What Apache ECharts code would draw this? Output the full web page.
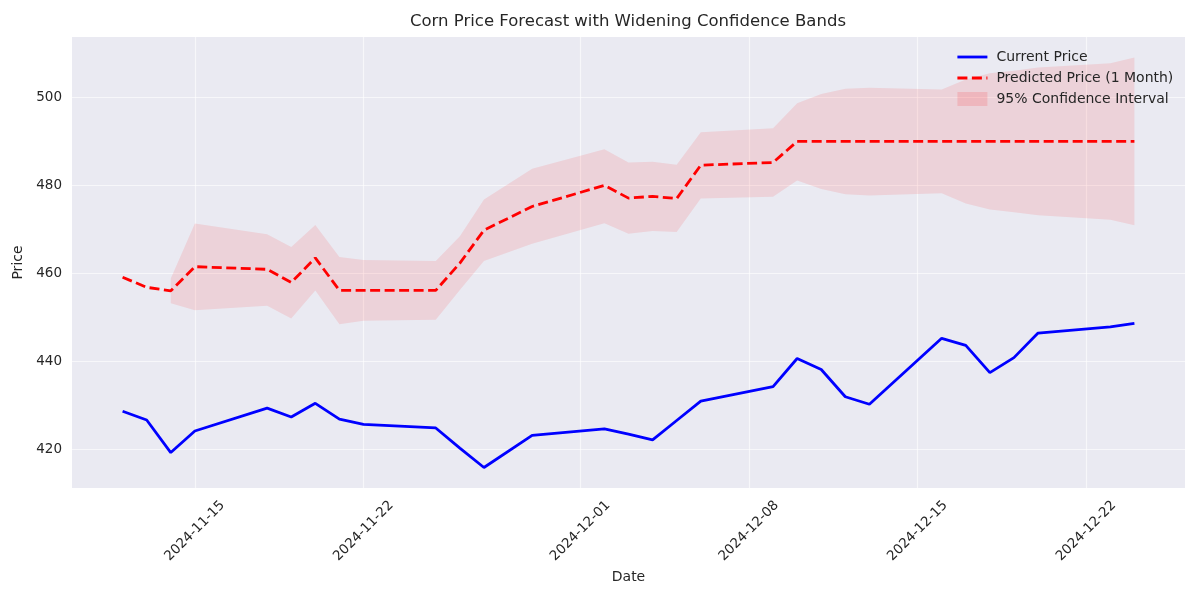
<!DOCTYPE html>
<html>
<head>
<meta charset="utf-8">
<script src="https://cdn.jsdelivr.net/npm/echarts@6/dist/echarts.min.js"></script>
<style>html,body{margin:0;padding:0;background:#fff}#chart{width:1200px;height:600px}</style>
</head>
<body>
<div id="chart"></div>
<script>
const dates = ['2024-11-12','2024-11-13','2024-11-14','2024-11-15','2024-11-18','2024-11-19','2024-11-20','2024-11-21','2024-11-22','2024-11-25','2024-11-26','2024-11-27','2024-11-29','2024-12-02','2024-12-03','2024-12-04','2024-12-05','2024-12-06','2024-12-09','2024-12-10','2024-12-11','2024-12-12','2024-12-13','2024-12-16','2024-12-17','2024-12-18','2024-12-19','2024-12-20','2024-12-23','2024-12-24'];
const currentPrice = [428.6,426.6,419.2,424.1,429.3,427.3,430.4,426.8,425.6,424.8,420.2,415.8,423.1,424.6,423.4,422.1,426.5,430.9,434.2,440.6,438.1,431.9,430.2,445.2,443.6,437.4,440.8,446.4,447.8,448.6];
const predictedPrice = [459.1,456.8,456.0,461.5,460.9,457.9,463.5,456.1,456.1,456.1,462.3,469.8,475.2,480.0,477.1,477.5,477.0,484.6,485.2,490.0,490.0,490.0,490.0,490.0,490.0,490.0,490.0,490.0,490.0,490.0];
const bandDates = dates.slice(2);
const ciLower = [453.2,451.6,452.6,449.7,456.1,448.4,449.2,449.4,456.2,462.8,466.7,471.4,469.0,469.6,469.4,477.0,477.4,481.1,479.2,478.0,477.7,478.2,475.9,474.5,473.9,473.2,472.2,470.9];
const ciUpper = [458.8,471.3,468.9,466.0,471.0,463.7,463.0,462.8,468.4,476.8,483.8,488.2,485.2,485.4,484.7,492.1,493.0,498.7,500.8,502.0,502.2,501.8,504.1,505.5,506.1,506.8,507.8,509.1];
const xTickLabels = ['2024-11-15','2024-11-22','2024-12-01','2024-12-08','2024-12-15','2024-12-22'];
const yTicks = [420,440,460,480,500];

const ts = d => Date.parse(d + 'T00:00:00Z');
const pad2 = n => (n < 10 ? '0' : '') + n;
const fmt = v => { const d = new Date(v); return d.getUTCFullYear() + '-' + pad2(d.getUTCMonth() + 1) + '-' + pad2(d.getUTCDate()); };
const t0 = ts(dates[0]), t1 = ts(dates[dates.length - 1]);
const span = t1 - t0;
const allVals = currentPrice.concat(predictedPrice, ciLower, ciUpper);
const vMin = Math.min(...allVals), vMax = Math.max(...allVals);
const vSpan = vMax - vMin;

const textColor = '#262626';
const font = 'DejaVu Sans';
const bandData = bandDates.map((d, i) => [ts(d), ciLower[i], ciUpper[i]]);
const gridLine = { show: true, lineStyle: { color: 'rgba(255,255,255,0.6)', width: 1.2 } };

const chart = echarts.init(document.getElementById('chart'));
chart.setOption({
  animation: false,
  backgroundColor: '#ffffff',
  title: {
    text: 'Corn Price Forecast with Widening Confidence Bands',
    left: 410, top: 13, padding: 0,
    textStyle: { fontFamily: font, fontSize: 16.5, fontWeight: 'normal', color: textColor }
  },
  legend: {
    orient: 'vertical', left: 951, top: 45, align: 'left',
    itemWidth: 30, itemHeight: 14, itemGap: 7,
    textStyle: { fontFamily: font, fontSize: 14, color: textColor, padding: [0, 0, 0, 4] },
    data: [
      { name: 'Current Price', itemStyle: { opacity: 0 }, lineStyle: { width: 2.8 } },
      { name: 'Predicted Price (1 Month)', itemStyle: { opacity: 0 }, lineStyle: { width: 2.8 } },
      { name: '95% Confidence Interval', icon: 'rect', itemStyle: { color: 'rgba(255,0,0,0.13)' } }
    ]
  },
  grid: { left: 72, right: 15, top: 37, bottom: 112, backgroundColor: '#eaeaf2', show: true, borderWidth: 0 },
  xAxis: {
    type: 'value',
    min: t0 - 0.05 * span, max: t1 + 0.05 * span,
    name: 'Date', nameLocation: 'middle', nameGap: 82,
    nameTextStyle: { fontFamily: font, fontSize: 14, color: textColor },
    axisLine: { show: false }, axisTick: { show: false, customValues: xTickLabels.map(ts) },
    axisLabel: {
      customValues: xTickLabels.map(ts), formatter: v => fmt(v), rotate: 45,
      align: 'center', verticalAlign: 'middle', margin: 43,
      fontFamily: font, fontSize: 13.5, color: textColor
    },
    splitLine: gridLine
  },
  yAxis: {
    type: 'value',
    min: vMin - 0.05 * vSpan, max: vMax + 0.05 * vSpan,
    name: 'Price', nameLocation: 'middle', nameGap: 39,
    nameTextStyle: { fontFamily: font, fontSize: 14, color: textColor },
    axisLine: { show: false }, axisTick: { show: false, customValues: yTicks },
    axisLabel: { customValues: yTicks, margin: 10, fontFamily: font, fontSize: 13.5, color: textColor },
    splitLine: gridLine
  },
  series: [
    {
      name: '95% Confidence Interval', type: 'custom', silent: true, z: 1,
      color: 'rgba(255,0,0,0.13)',
      data: bandData,
      encode: { x: 0, y: [1, 2] },
      renderItem: function (params, api) {
        if (params.dataIndex !== 0) return;
        const upper = bandData.map(r => api.coord([r[0], r[2]]));
        const lower = bandData.map(r => api.coord([r[0], r[1]])).reverse();
        return {
          type: 'polygon',
          shape: { points: upper.concat(lower) },
          style: { fill: 'rgba(255,0,0,0.1)', stroke: 'none' }
        };
      }
    },
    {
      name: 'Current Price', type: 'line', symbol: 'none', color: '#0000ff',
      data: dates.map((d, i) => [ts(d), currentPrice[i]]),
      lineStyle: { color: '#0000ff', width: 2.8 }, z: 3
    },
    {
      name: 'Predicted Price (1 Month)', type: 'line', symbol: 'none', color: '#ff0000',
      data: dates.map((d, i) => [ts(d), predictedPrice[i]]),
      lineStyle: { color: '#ff0000', width: 2.8, type: [10, 4.5] }, z: 3
    }
  ]
});
</script>
</body>
</html>
